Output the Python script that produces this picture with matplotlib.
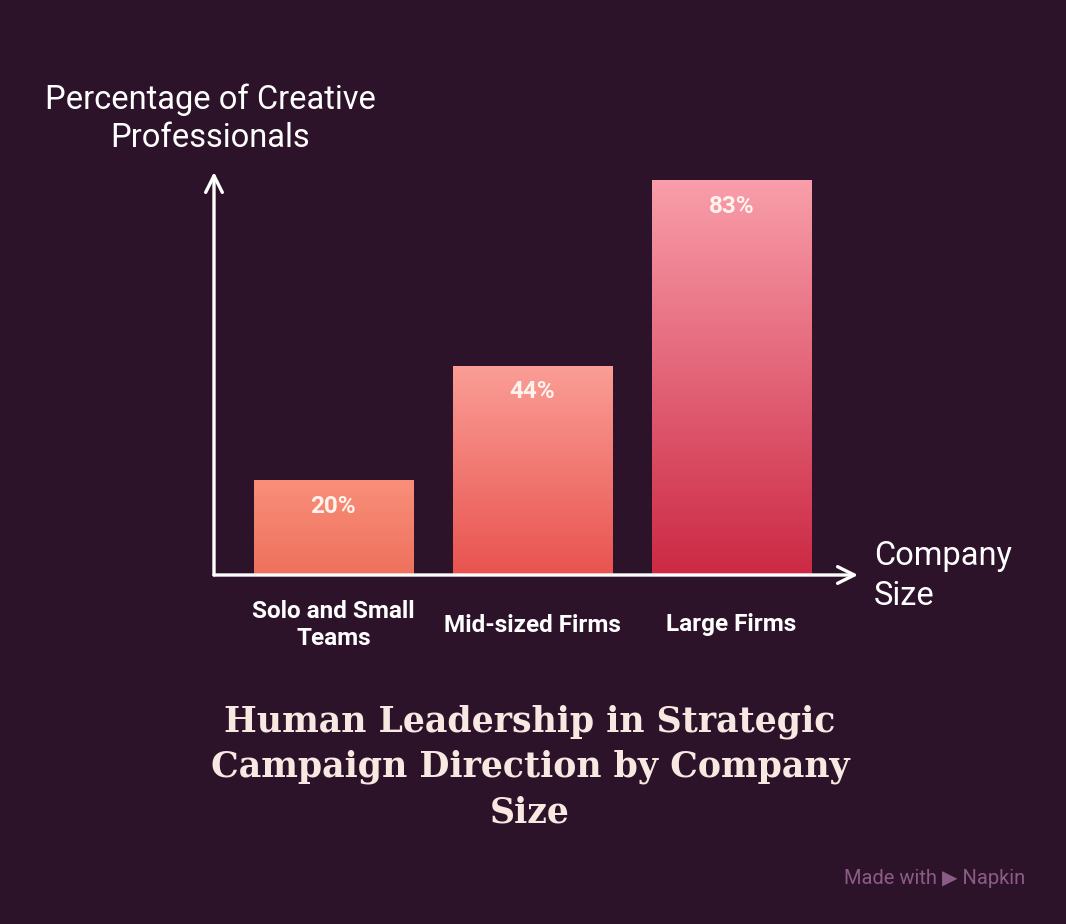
import numpy as np
import matplotlib
matplotlib.use('Agg')
from matplotlib import pyplot as plt
from matplotlib.colors import LinearSegmentedColormap

categories = ['Solo and Small\nTeams', 'Mid-sized Firms', 'Large Firms']
values = [20, 44, 83]
value_labels = ['20%', '44%', '83%']
top_colors = ['#F98F7A', '#FA9E96', '#F99EAA']
bottom_colors = ['#EE715C', '#E9534F', '#CC2944']

bg = '#2D1329'
fg = '#FFFFFF'

W, H = 1066, 924
fig = plt.figure(figsize=(W / 100, H / 100), dpi=100, facecolor=bg)
ax = fig.add_axes([214 / W, (H - 575) / H, 644 / W, 403 / H])
ax.set_facecolor(bg)
for s in ax.spines.values():
    s.set_visible(False)
ax.set_xticks([])
ax.set_yticks([])

idx = np.arange(len(values))
bars = ax.bar(idx, values, width=0.8, color='none', edgecolor='none')
grad = np.linspace(1, 0, 256).reshape(-1, 1)
for b, tc, bc, lab in zip(bars, top_colors, bottom_colors, value_labels):
    cmap = LinearSegmentedColormap.from_list('g', [bc, tc])
    x0, w, h = b.get_x(), b.get_width(), b.get_height()
    im = ax.imshow(grad, cmap=cmap, aspect='auto', extent=[x0, x0 + w, 0, h],
                   vmin=0, vmax=1, zorder=2)
    im.set_clip_path(b)
    ax.text(x0 + w / 2, h - 5.5, lab, ha='center', va='center', color='#FFF3EE',
            fontsize=17.5, fontweight='bold', family='Roboto', zorder=3)

ax.set_xlim(-0.6, 2.636)
ax.set_ylim(0, 84.7)

# axes with arrows
arrow = dict(arrowstyle='->', color=fg, lw=2.4, mutation_scale=30,
             shrinkA=0, shrinkB=0)
ax.annotate('', xy=(1, 0), xytext=(0, 0), xycoords='axes fraction',
            arrowprops=arrow, annotation_clip=False)
ax.annotate('', xy=(0, 1), xytext=(0, 0), xycoords='axes fraction',
            arrowprops=arrow, annotation_clip=False)

for i, c in enumerate(categories):
    fig.text((333.5 + 199 * i) / W, 1 - 625 / H, c, ha='center', va='center',
             color=fg, fontsize=17.5, fontweight='bold', family='Roboto',
             linespacing=1.2)

fig.text(210 / W, 1 - 119 / H, 'Percentage of Creative\nProfessionals',
         ha='center', va='center', color=fg, fontsize=23.5, family='Roboto',
         linespacing=1.24)
fig.text(874 / W, 1 - 576 / H, 'Company\nSize', ha='left', va='center',
         color=fg, fontsize=23.5, family='Roboto', linespacing=1.3)

fig.text(530 / W, 1 - 767 / H,
         'Human Leadership in Strategic\nCampaign Direction by Company\nSize',
         ha='center', va='center', color='#F7E8E2', fontsize=25,
         fontweight='bold', family='DejaVu Serif', linespacing=1.42)

fig.text(1025 / W, 1 - 878 / H, 'Made with \u25B6 Napkin', ha='right', va='center',
         color='#8C5C87', fontsize=14.5, family=['Roboto', 'DejaVu Sans'])

fig.savefig('out.png', dpi=100, facecolor=bg)
